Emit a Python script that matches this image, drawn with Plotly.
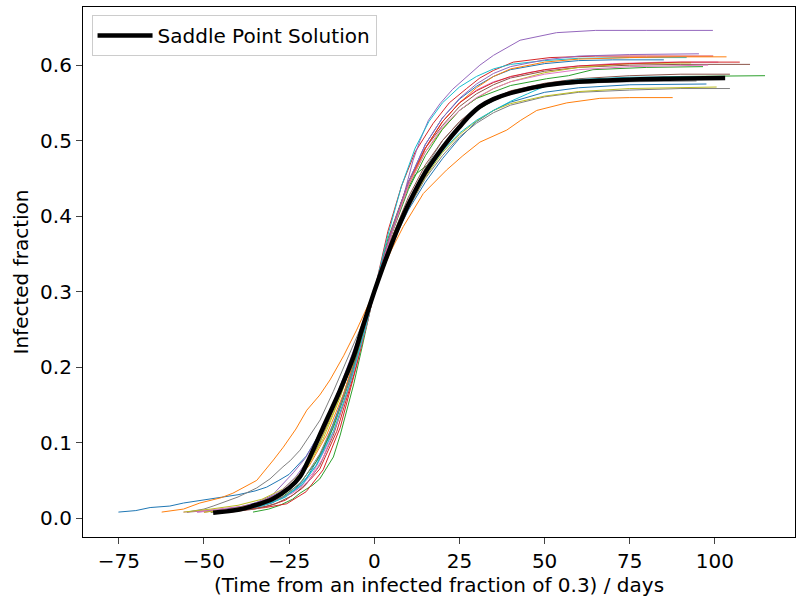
import plotly.graph_objects as go

# ---- data (days from infected fraction 0.3, infected fraction) ----
run01_t = [-75.1, -70, -65.8, -60, -56, -50, -46, -40, -35, -31.6, -28, -25, -20, -15, -10, -5, 0, 5, 10, 15, 20, 25, 30, 35, 40, 50, 60, 75, 97.5]
run01_f = [0.008, 0.010, 0.014, 0.016, 0.020, 0.024, 0.027, 0.031, 0.036, 0.041, 0.050, 0.058, 0.082, 0.12, 0.168, 0.230, 0.30, 0.362, 0.408, 0.445, 0.476, 0.503, 0.525, 0.540, 0.551, 0.564, 0.570, 0.574, 0.575]

run02_t = [-62.4, -56, -51.2, -45, -41.5, -34.5, -29.6, -26.7, -23, -19.8, -16, -13, -9, -5.2, 0, 1.7, 5, 8.5, 14.4, 21.2, 26, 31, 38.9, 43, 47.7, 56.5, 66.2, 75, 87.6]
run02_f = [0.008, 0.012, 0.020, 0.027, 0.033, 0.050, 0.077, 0.094, 0.118, 0.143, 0.163, 0.183, 0.215, 0.249, 0.30, 0.32, 0.355, 0.386, 0.43, 0.461, 0.480, 0.498, 0.514, 0.527, 0.540, 0.550, 0.556, 0.557, 0.557]

run03_t = [-35.6, -31, -27.7, -24, -21.8, -18, -16, -12, -10, -6, -3.3, 0, 4, 8, 12, 16.8, 20, 25, 30, 35, 40, 50, 60, 75, 90, 114.7]
run03_f = [0.008, 0.012, 0.017, 0.025, 0.033, 0.044, 0.052, 0.081, 0.110, 0.178, 0.232, 0.30, 0.37, 0.42, 0.455, 0.472, 0.49, 0.52, 0.54, 0.553, 0.562, 0.572, 0.578, 0.582, 0.585, 0.586]

run04_t = [-48, -40, -32, -25.7, -20, -15, -10, -5, 0, 4, 8, 12, 17.3, 22, 27.1, 31, 35, 40.8, 51.6, 65, 80, 99.5]
run04_f = [0.008, 0.010, 0.014, 0.019, 0.035, 0.064, 0.12, 0.205, 0.30, 0.38, 0.44, 0.485, 0.523, 0.55, 0.569, 0.583, 0.593, 0.604, 0.610, 0.612, 0.612, 0.612]

run05_t = [-50, -42, -35, -30, -23.8, -20.3, -15, -10, -5, 0, 4.6, 8.5, 11.4, 13.4, 15.9, 19.3, 23, 27.1, 31, 35, 42.8, 53.5, 65, 80, 99.4]
run05_f = [0.008, 0.012, 0.020, 0.030, 0.060, 0.079, 0.12, 0.175, 0.235, 0.30, 0.373, 0.425, 0.474, 0.50, 0.527, 0.549, 0.568, 0.585, 0.60, 0.613, 0.633, 0.643, 0.646, 0.646, 0.646]

run06_t = [-55, -45, -38, -32, -26, -21, -16, -11, -5, 0, 5, 10, 15, 20, 25, 30, 35, 40, 50, 60, 75, 90, 110.3]
run06_f = [0.008, 0.011, 0.015, 0.022, 0.035, 0.060, 0.10, 0.155, 0.225, 0.30, 0.375, 0.44, 0.49, 0.52, 0.545, 0.562, 0.574, 0.583, 0.592, 0.597, 0.600, 0.601, 0.601]

run07_t = [-56, -50, -44, -38, -32, -27, -22, -18, -14, -10, -5, 0, 5, 10, 15, 20, 25, 30, 35, 45, 55, 70, 85, 101]
run07_f = [0.008, 0.010, 0.013, 0.016, 0.020, 0.027, 0.040, 0.060, 0.095, 0.15, 0.22, 0.30, 0.38, 0.445, 0.49, 0.525, 0.55, 0.567, 0.578, 0.590, 0.597, 0.602, 0.604, 0.604]

run08_t = [-55, -50, -47.3, -40, -34.5, -30.6, -26.8, -24.7, -21.8, -18.9, -15.9, -12, -8, -4, 0, 5, 10, 15, 20, 25, 30, 35, 40, 50, 60, 75, 94.6]
run08_f = [0.008, 0.012, 0.016, 0.028, 0.040, 0.052, 0.068, 0.076, 0.090, 0.110, 0.130, 0.168, 0.21, 0.252, 0.30, 0.362, 0.418, 0.464, 0.50, 0.525, 0.545, 0.557, 0.565, 0.572, 0.576, 0.578, 0.579]

run09_t = [-56, -48, -40, -33, -27, -22, -17, -12, -6, 0, 5, 10, 15, 20, 25, 30, 35, 40, 50, 60, 75, 93]
run09_f = [0.008, 0.012, 0.017, 0.025, 0.038, 0.058, 0.09, 0.14, 0.21, 0.30, 0.375, 0.44, 0.485, 0.515, 0.54, 0.556, 0.569, 0.578, 0.590, 0.597, 0.602, 0.603]

run10_t = [-45, -38, -32, -26, -21, -17, -13, -9, -5, 0, 4, 8, 12, 16, 20, 25, 30, 35, 40, 50, 60, 75, 91.7]
run10_f = [0.008, 0.012, 0.018, 0.028, 0.045, 0.07, 0.11, 0.16, 0.22, 0.30, 0.375, 0.44, 0.49, 0.525, 0.55, 0.571, 0.585, 0.595, 0.601, 0.606, 0.609, 0.610, 0.610]

run11_t = [-44, -37, -30, -25, -20, -15, -10, -5, 0, 5, 10, 15, 20, 25, 30, 35, 40, 50, 60, 70, 85]
run11_f = [0.008, 0.012, 0.020, 0.032, 0.052, 0.09, 0.15, 0.22, 0.30, 0.38, 0.445, 0.495, 0.53, 0.555, 0.572, 0.585, 0.594, 0.602, 0.606, 0.607, 0.607]

run12_t = [-50, -42, -35, -29, -24, -19, -14, -9, -4, 0, 5, 10, 15, 20, 25, 30, 35, 40, 50, 60, 75, 90, 103.4]
run12_f = [0.008, 0.012, 0.019, 0.030, 0.045, 0.07, 0.11, 0.165, 0.235, 0.30, 0.38, 0.44, 0.49, 0.525, 0.55, 0.57, 0.585, 0.595, 0.604, 0.608, 0.610, 0.611, 0.611]

run13_t = [-48, -40, -33, -27, -22, -17, -12, -7, -3, 0, 5, 10, 15, 20, 25, 30, 40, 50.6, 57, 64.2, 80, 96.5]
run13_f = [0.008, 0.012, 0.018, 0.028, 0.045, 0.075, 0.12, 0.185, 0.25, 0.30, 0.375, 0.435, 0.48, 0.515, 0.54, 0.556, 0.573, 0.582, 0.586, 0.594, 0.597, 0.598]

run14_t = [-46, -38, -31, -26, -21, -16, -11, -6, -2, 0, 5, 10, 15, 20, 25, 30, 35, 40, 50, 60, 75, 90, 107.3]
run14_f = [0.008, 0.011, 0.016, 0.024, 0.040, 0.065, 0.115, 0.19, 0.26, 0.30, 0.38, 0.445, 0.49, 0.525, 0.55, 0.566, 0.577, 0.585, 0.594, 0.599, 0.602, 0.604, 0.604]

run15_t = [-52, -45, -38, -32, -27, -23, -19, -15, -10, -5, 0, 5, 10, 15, 20, 25, 30, 35, 40, 50, 60, 75, 95.3]
run15_f = [0.008, 0.011, 0.016, 0.024, 0.037, 0.055, 0.08, 0.115, 0.165, 0.228, 0.30, 0.38, 0.445, 0.495, 0.53, 0.556, 0.575, 0.589, 0.598, 0.607, 0.612, 0.614, 0.615]

run16_t = [-42, -35, -29, -24, -20, -16, -12, -8, -4, 0, 5, 10, 15, 20, 25, 30, 35, 40, 50, 60, 75, 90, 104.4]
run16_f = [0.008, 0.012, 0.019, 0.030, 0.045, 0.07, 0.11, 0.165, 0.23, 0.30, 0.37, 0.425, 0.468, 0.50, 0.525, 0.543, 0.556, 0.566, 0.576, 0.582, 0.586, 0.588, 0.588]

run17_t = [-52, -44, -37, -30, -24, -19, -15, -11, -6, -2, 0, 5, 10, 15, 20, 25, 30, 35, 40, 50, 60, 75, 98]
run17_f = [0.008, 0.011, 0.015, 0.022, 0.033, 0.050, 0.08, 0.125, 0.195, 0.26, 0.30, 0.375, 0.44, 0.485, 0.518, 0.54, 0.557, 0.569, 0.578, 0.588, 0.594, 0.598, 0.600]

run18_t = [-44, -37, -31, -26, -21, -16, -11, -6, -2, 0, 5, 10, 15, 20, 25, 30, 35, 40, 50, 60, 75, 90, 104.4]
run18_f = [0.008, 0.012, 0.019, 0.030, 0.050, 0.085, 0.135, 0.20, 0.26, 0.30, 0.36, 0.41, 0.45, 0.48, 0.505, 0.523, 0.537, 0.547, 0.558, 0.564, 0.567, 0.569, 0.569]

run19_t = [-50, -43, -36, -30, -25, -20, -15, -10, -5, 0, 5, 10, 15, 20, 25, 30, 35, 40, 50, 60, 75, 100.5]
run19_f = [0.008, 0.011, 0.017, 0.026, 0.040, 0.065, 0.105, 0.16, 0.228, 0.30, 0.36, 0.412, 0.452, 0.484, 0.508, 0.526, 0.54, 0.549, 0.559, 0.565, 0.569, 0.571]

run20_t = [-47, -40, -33, -27, -22, -17, -12, -7, -3, 0, 5, 10, 15, 20, 25, 30, 35, 40, 45, 50, 55, 60, 75, 102]
run20_f = [0.008, 0.011, 0.016, 0.026, 0.042, 0.07, 0.115, 0.18, 0.245, 0.30, 0.365, 0.415, 0.455, 0.486, 0.51, 0.527, 0.54, 0.552, 0.562, 0.572, 0.578, 0.581, 0.584, 0.585]

saddle_t = [-47.3, -40, -36.5, -30, -25, -21.8, -19.8, -15, -10, -6, -3.7, 0, 2.5, 5, 7.5, 10.5, 15, 18.3, 22, 25, 28, 31, 35, 40.8, 50.6, 60, 70, 85, 103]
saddle_f = [0.007, 0.011, 0.015, 0.025, 0.040, 0.055, 0.072, 0.12, 0.17, 0.215, 0.249, 0.30, 0.332, 0.362, 0.39, 0.42, 0.458, 0.48, 0.502, 0.518, 0.533, 0.545, 0.555, 0.564, 0.5735, 0.578, 0.580, 0.582, 0.583]

runs = [
    (run01_t, run01_f), (run02_t, run02_f), (run03_t, run03_f), (run04_t, run04_f),
    (run05_t, run05_f), (run06_t, run06_f), (run07_t, run07_f), (run08_t, run08_f),
    (run09_t, run09_f), (run10_t, run10_f), (run11_t, run11_f), (run12_t, run12_f),
    (run13_t, run13_f), (run14_t, run14_f), (run15_t, run15_f), (run16_t, run16_f),
    (run17_t, run17_f), (run18_t, run18_f), (run19_t, run19_f), (run20_t, run20_f),
]

colors = ["#1f77b4", "#ff7f0e", "#2ca02c", "#d62728", "#9467bd",
          "#8c564b", "#e377c2", "#7f7f7f", "#bcbd22", "#17becf"]

x_ticks = [-75, -50, -25, 0, 25, 50, 75, 100]
y_ticks = [0.0, 0.1, 0.2, 0.3, 0.4, 0.5, 0.6]

fig = go.Figure()
for i, (t, f) in enumerate(runs):
    fig.add_trace(go.Scatter(x=t, y=f, mode="lines",
                             line=dict(color=colors[i % 10], width=1),
                             showlegend=False, hoverinfo="skip"))

fig.add_trace(go.Scatter(x=saddle_t, y=saddle_f, mode="lines",
                         line=dict(color="black", width=4.5, shape="spline", smoothing=0.8),
                         name="Saddle Point Solution", showlegend=True))

font_family = "DejaVu Sans"
fs = 20
fig.update_layout(
    width=798, height=600,
    margin=dict(l=83, r=3, t=7, b=63),
    paper_bgcolor="white", plot_bgcolor="white",
    font=dict(family=font_family, size=fs, color="black"),
    showlegend=True,
    legend=dict(x=0.012, y=0.985, xanchor="left", yanchor="top",
                bgcolor="rgba(255,255,255,0.8)", bordercolor="#cccccc", borderwidth=1,
                itemwidth=55,
                font=dict(size=fs, family=font_family)),
    xaxis=dict(range=[-85.5, 123.5], tickvals=x_ticks,
               ticktext=[("\u2212" + str(-v)) if v < 0 else str(v) for v in x_ticks],
               showgrid=False, zeroline=False, showline=True, linecolor="black",
               linewidth=1.2, mirror=True, ticks="outside", ticklen=6, tickwidth=1.2,
               tickfont=dict(size=fs),
               title=dict(text="(Time from an infected fraction of 0.3) / days",
                          font=dict(size=fs), standoff=5)),
    yaxis=dict(range=[-0.025, 0.677], tickvals=y_ticks,
               ticktext=[f"{v:.1f}" for v in y_ticks],
               showgrid=False, zeroline=False, showline=True, linecolor="black",
               linewidth=1.2, mirror=True, ticks="outside", ticklen=6, tickwidth=1.2,
               tickfont=dict(size=fs),
               title=dict(text="Infected fraction", font=dict(size=fs), standoff=6)),
)

fig.write_html("out.html")
